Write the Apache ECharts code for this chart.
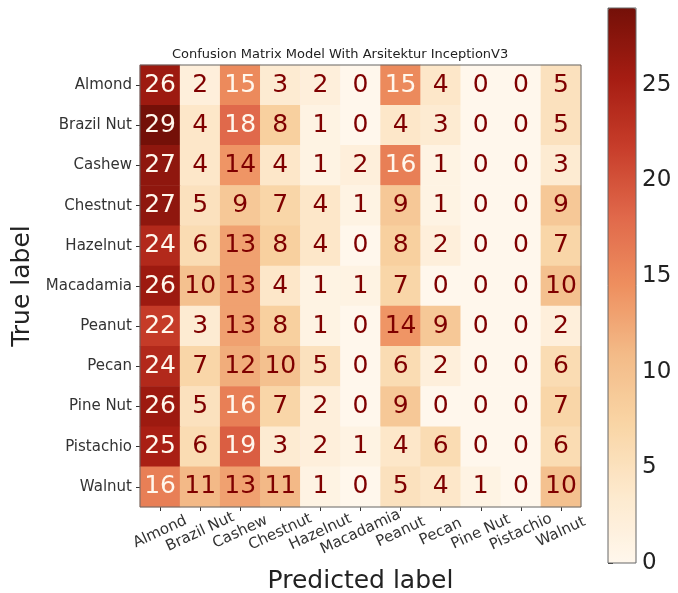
<!DOCTYPE html>
<html>
<head>
<meta charset="utf-8">
<script src="https://cdn.jsdelivr.net/npm/echarts@6/dist/echarts.min.js"></script>
<style>
  html, body { margin: 0; padding: 0; background: #fff; }
  #cm { width: 678px; height: 593px; }
</style>
</head>
<body>
<div id="cm"></div>
<script>
// class names (same order for true and predicted)
var labels = ['Almond', 'Brazil Nut', 'Cashew', 'Chestnut', 'Hazelnut', 'Macadamia',
              'Peanut', 'Pecan', 'Pine Nut', 'Pistachio', 'Walnut'];

// one row per true label, columns are predicted labels
var rowAlmond    = [26, 2, 15, 3, 2, 0, 15, 4, 0, 0, 5];
var rowBrazil    = [29, 4, 18, 8, 1, 0, 4, 3, 0, 0, 5];
var rowCashew    = [27, 4, 14, 4, 1, 2, 16, 1, 0, 0, 3];
var rowChestnut  = [27, 5, 9, 7, 4, 1, 9, 1, 0, 0, 9];
var rowHazelnut  = [24, 6, 13, 8, 4, 0, 8, 2, 0, 0, 7];
var rowMacadamia = [26, 10, 13, 4, 1, 1, 7, 0, 0, 0, 10];
var rowPeanut    = [22, 3, 13, 8, 1, 0, 14, 9, 0, 0, 2];
var rowPecan     = [24, 7, 12, 10, 5, 0, 6, 2, 0, 0, 6];
var rowPineNut   = [26, 5, 16, 7, 2, 0, 9, 0, 0, 0, 7];
var rowPistachio = [25, 6, 19, 3, 2, 1, 4, 6, 0, 0, 6];
var rowWalnut    = [16, 11, 13, 11, 1, 0, 5, 4, 1, 0, 10];

var rows = [rowAlmond, rowBrazil, rowCashew, rowChestnut, rowHazelnut, rowMacadamia,
            rowPeanut, rowPecan, rowPineNut, rowPistachio, rowWalnut];

var vMin = 0, vMax = 29;
var colorbarTicks = [0, 5, 10, 15, 20, 25];

// OrRd-like ramp, toned to the picture
var orRd = ['#fff7ec', '#fde9cd', '#f9d5a5', '#f3bb88', '#ee8f5f', '#e0684a', '#c73d2a', '#a51c12', '#741008'];
var thresh = (vMin + vMax) / 2;

var cells = [];
rows.forEach(function (r, i) {
    r.forEach(function (v, j) {
        cells.push({
            value: [j, i, v],
            label: { color: v > thresh ? '#fff7ec' : '#7f0000' }
        });
    });
});

var font = 'DejaVu Sans';

var option = {
    animation: false,
    textStyle: { fontFamily: font },
    title: {
        text: 'Confusion Matrix Model With Arsitektur InceptionV3',
        left: 167,
        top: 43,
        textStyle: { fontFamily: font, fontSize: 13, fontWeight: 'normal', color: '#222' }
    },
    grid: [
        { left: 140, top: 65, width: 441, height: 442, show: true, z: 10, outerBoundsMode: 'none',
          backgroundColor: 'transparent', borderColor: '#666', borderWidth: 1 },
        { left: 608, top: 8, width: 28, height: 555, show: true, z: 10, outerBoundsMode: 'none',
          backgroundColor: 'transparent', borderColor: '#666', borderWidth: 1 }
    ],
    xAxis: [
        {
            type: 'category',
            gridIndex: 0,
            data: labels,
            name: 'Predicted label',
            nameLocation: 'middle',
            nameGap: 62,
            nameTextStyle: { fontSize: 25, color: '#222', fontFamily: font },
            axisLine: { show: false },
            axisTick: { show: true, alignWithLabel: true, length: 4, lineStyle: { color: '#333' } },
            axisLabel: {
                rotate: 25, fontSize: 15, color: '#333', margin: 25, interval: 0,
                align: 'center', verticalAlign: 'middle'
            },
            splitLine: { show: false }
        },
        { type: 'value', gridIndex: 1, show: false, min: 0, max: 1 }
    ],
    yAxis: [
        {
            type: 'category',
            gridIndex: 0,
            data: labels,
            inverse: true,
            name: 'True label',
            nameLocation: 'middle',
            nameGap: 97,
            nameTextStyle: { fontSize: 25, color: '#222', fontFamily: font },
            axisLine: { show: false },
            axisTick: { show: true, alignWithLabel: true, length: 4, lineStyle: { color: '#333' } },
            axisLabel: { fontSize: 15, color: '#333', margin: 8, interval: 0 },
            splitLine: { show: false }
        },
        {
            type: 'value',
            gridIndex: 1,
            position: 'right',
            min: vMin,
            max: vMax,
            interval: 5,
            axisLine: { show: false },
            axisTick: { show: true, length: 5, lineStyle: { color: '#333' } },
            axisLabel: {
                fontSize: 23, color: '#222', margin: 6,
                formatter: function (v) { return colorbarTicks.indexOf(v) >= 0 ? v : ''; }
            },
            splitLine: { show: false }
        }
    ],
    visualMap: {
        type: 'continuous',
        seriesIndex: 0,
        min: vMin,
        max: vMax,
        calculable: false,
        orient: 'vertical',
        left: 608,
        top: 8,
        padding: 0,
        itemWidth: 28,
        itemHeight: 555,
        text: null,
        showLabel: false,
        inRange: { color: orRd }
    },
    series: [
        {
            type: 'heatmap',
            xAxisIndex: 0,
            yAxisIndex: 0,
            data: cells,
            label: {
                show: true,
                fontSize: 25,
                fontFamily: font,
                formatter: function (p) { return p.value[2]; }
            },
            emphasis: { disabled: true }
        }
    ]
};

var cm = echarts.init(document.getElementById('cm'));
cm.setOption(option);
</script>
</body>
</html>
